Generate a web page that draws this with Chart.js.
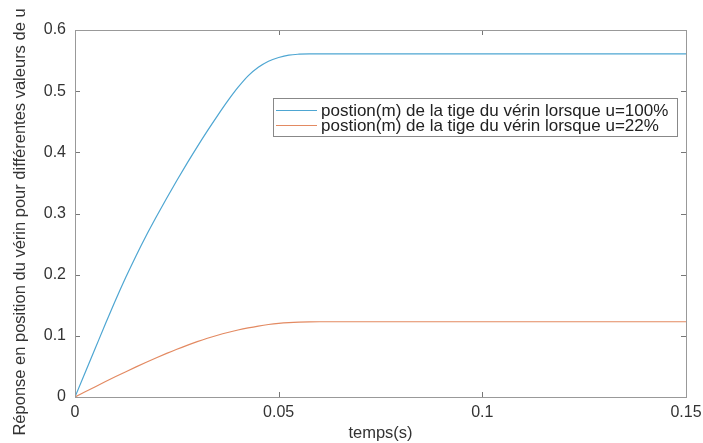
<!DOCTYPE html>
<html lang="fr">
<head>
    <meta charset="UTF-8">
    <title>Réponse en position du vérin</title>
    <script src="https://cdn.jsdelivr.net/npm/chart.js"></script>
    <style>
        body {
            margin: 0;
            padding: 0;
            background-color: #ffffff;
        }
        #wrap {
            width: 703px;
            height: 443px;
        }
    </style>
</head>
<body>
    <div id="wrap"><canvas id="posChart" width="703" height="443"></canvas></div>

    <script>
        // time (s)
        const temps = [0, 0.0025, 0.005, 0.0075, 0.01, 0.0125, 0.015, 0.0175, 0.02, 0.0225, 0.025, 0.0275,
                       0.03, 0.0325, 0.035, 0.0375, 0.04, 0.0425, 0.045, 0.0475, 0.05, 0.0525, 0.055, 0.0575, 0.06, 0.15];
        // u = 100%
        const pos100 = [0, 0.040, 0.080, 0.120, 0.159, 0.196, 0.231, 0.264, 0.295, 0.325, 0.354, 0.382,
                        0.409, 0.435, 0.460, 0.484, 0.506, 0.525, 0.539, 0.549, 0.555, 0.559, 0.5605, 0.561, 0.561, 0.561];
        // u = 22%
        const pos22 = [0, 0.0085, 0.0169, 0.0252, 0.0334, 0.0414, 0.0492, 0.0568, 0.0642, 0.0713, 0.0781, 0.0845,
                       0.0905, 0.096, 0.101, 0.1055, 0.1095, 0.113, 0.116, 0.1185, 0.1204, 0.1217, 0.1225, 0.1229, 0.123, 0.123];

        const seriesLabels = [
            'postion(m) de la tige du vérin lorsque u=100%',
            'postion(m) de la tige du vérin lorsque u=22%'
        ];
        const xTicks = [0, 0.05, 0.1, 0.15];
        const xTickLabels = ['0', '0.05', '0.1', '0.15'];
        const yTicks = [0, 0.1, 0.2, 0.3, 0.4, 0.5, 0.6];
        const yTickLabels = ['0', '0.1', '0.2', '0.3', '0.4', '0.5', '0.6'];
        const yTitle = 'Réponse en position du vérin pour différentes valeurs de u';

        const FONT = "'Liberation Sans', Arial, sans-serif";

        // matlab style ticks pointing inside the box
        const innerTicks = {
            id: 'innerTicks',
            afterDatasetsDraw(chart) {
                const ctx = chart.ctx;
                const a = chart.chartArea;
                const xs = chart.scales.x, ys = chart.scales.y;
                ctx.save();
                ctx.strokeStyle = '#777';
                ctx.lineWidth = 1;
                ctx.beginPath();
                xTicks.forEach(v => {
                    const px = Math.round(xs.getPixelForValue(v)) + 0.5;
                    ctx.moveTo(px, a.bottom); ctx.lineTo(px, a.bottom - 5);
                    ctx.moveTo(px, a.top); ctx.lineTo(px, a.top + 5);
                });
                yTicks.forEach(v => {
                    const py = Math.round(ys.getPixelForValue(v)) + 0.5;
                    ctx.moveTo(a.left, py); ctx.lineTo(a.left + 5, py);
                    ctx.moveTo(a.right, py); ctx.lineTo(a.right - 5, py);
                });
                ctx.stroke();
                // box
                ctx.strokeStyle = '#999';
                ctx.strokeRect(Math.round(a.left) + 0.5, Math.round(a.top) + 0.5,
                               Math.round(a.right - a.left), Math.round(a.bottom - a.top));
                ctx.restore();
            }
        };

        // long y label, centred on the whole figure height like matlab does
        const yLabel = {
            id: 'yLabel',
            afterDraw(chart) {
                const ctx = chart.ctx;
                ctx.save();
                ctx.translate(20, 222);
                ctx.rotate(-Math.PI / 2);
                ctx.font = '16.5px ' + FONT;
                ctx.fillStyle = '#333';
                ctx.textAlign = 'center';
                ctx.textBaseline = 'middle';
                ctx.fillText(yTitle, 0, 0);
                ctx.restore();
            }
        };

        // legend box inside the axes
        const boxLegend = {
            id: 'boxLegend',
            afterDraw(chart) {
                const ctx = chart.ctx;
                const a = chart.chartArea;
                const w = 404, h = 38;
                const x0 = a.right - 9 - w, y0 = a.top + 68;
                ctx.save();
                ctx.fillStyle = '#fff';
                ctx.fillRect(x0, y0, w, h);
                ctx.strokeStyle = '#888';
                ctx.lineWidth = 1;
                ctx.strokeRect(x0 + 0.5, y0 + 0.5, w, h);
                ctx.font = '17px ' + FONT;
                ctx.textBaseline = 'middle';
                chart.data.datasets.forEach((ds, i) => {
                    const cy = y0 + 12 + i * 15;
                    ctx.strokeStyle = ds.borderColor;
                    ctx.beginPath();
                    ctx.moveTo(x0 + 3, cy + 0.5); ctx.lineTo(x0 + 44, cy + 0.5);
                    ctx.stroke();
                    ctx.fillStyle = '#222';
                    ctx.fillText(ds.label, x0 + 48, cy + 1);
                });
                ctx.restore();
            }
        };

        new Chart(document.getElementById('posChart').getContext('2d'), {
            type: 'line',
            data: {
                datasets: [
                    {
                        label: seriesLabels[0],
                        data: temps.map((t, i) => ({ x: t, y: pos100[i] })),
                        borderColor: '#4ea6d2',
                        borderWidth: 1.2,
                        pointRadius: 0,
                        cubicInterpolationMode: 'monotone'
                    },
                    {
                        label: seriesLabels[1],
                        data: temps.map((t, i) => ({ x: t, y: pos22[i] })),
                        borderColor: '#e38a62',
                        borderWidth: 1.2,
                        pointRadius: 0,
                        cubicInterpolationMode: 'monotone'
                    }
                ]
            },
            options: {
                responsive: false,
                animation: false,
                layout: { padding: { top: 30, right: 17, left: 0, bottom: 0 } },
                plugins: {
                    legend: { display: false },
                    tooltip: { enabled: false }
                },
                scales: {
                    x: {
                        type: 'linear',
                        min: 0,
                        max: 0.15,
                        afterBuildTicks: s => { s.ticks = xTicks.map(v => ({ value: v })); },
                        afterFit: s => { s.height = 46; s.paddingRight = 0; s.paddingLeft = 0; },
                        grid: { display: false, drawTicks: false },
                        border: { display: false },
                        ticks: {
                            padding: 6,
                            color: '#333',
                            font: { family: FONT, size: 16 },
                            maxRotation: 0,
                            callback: (v, i) => xTickLabels[i]
                        },
                        title: {
                            display: true,
                            text: 'temps(s)',
                            color: '#333',
                            font: { family: FONT, size: 16.5 },
                            padding: { top: 0, bottom: 0 }
                        }
                    },
                    y: {
                        min: 0,
                        max: 0.6,
                        afterBuildTicks: s => { s.ticks = yTicks.map(v => ({ value: v })); },
                        afterFit: s => { s.width = 75; s.paddingTop = 0; s.paddingBottom = 0; },
                        grid: { display: false, drawTicks: false },
                        border: { display: false },
                        ticks: {
                            padding: 9,
                            color: '#333',
                            font: { family: FONT, size: 16 },
                            callback: (v, i) => yTickLabels[i]
                        },
                        title: { display: false }
                    }
                }
            },
            plugins: [innerTicks, yLabel, boxLegend]
        });
    </script>
</body>
</html>
